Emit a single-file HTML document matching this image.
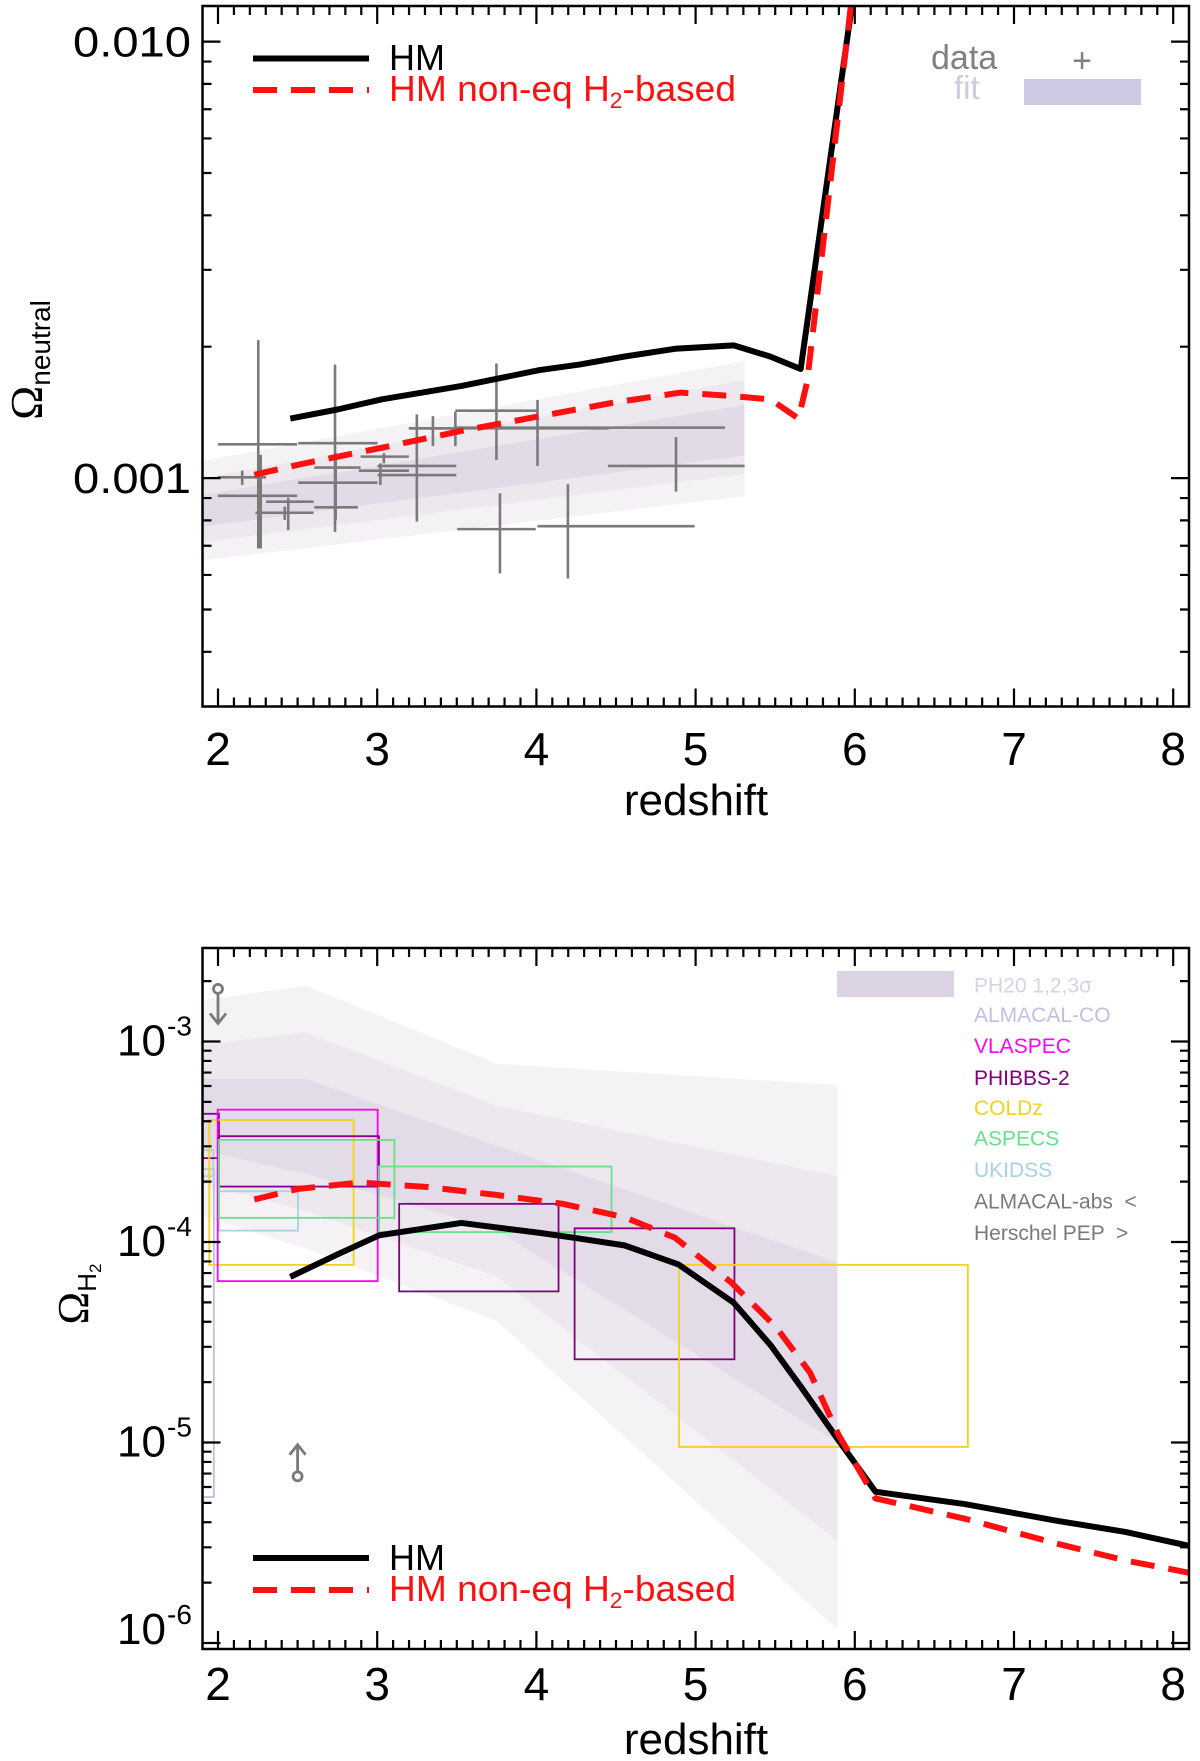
<!DOCTYPE html>
<html><head><meta charset="utf-8"><style>
html,body{margin:0;padding:0;background:#fff;}
svg{display:block;font-family:"Liberation Sans",Arial,sans-serif;}
</style></head><body>
<svg id="fig" width="1200" height="1761" viewBox="0 0 1200 1761" xmlns="http://www.w3.org/2000/svg">
<defs>
<clipPath id="clipTop"><rect x="202.5" y="6" width="986.5" height="700.5"/></clipPath>
<clipPath id="clipBot"><rect x="202.5" y="948" width="986.5" height="701"/></clipPath>
</defs>
<g id="topPanel"></g>
<g id="botPanel"></g>
</svg>
<script>
// ---------- Top panel data ----------
const hmTopZ = [2.454,2.75,3.03,3.53,4.02,4.27,4.55,4.87,5.24,5.47,5.66,6.0];
const hmTopV = [1.369e-3,1.436e-3,1.515e-3,1.626e-3,1.768e-3,1.82e-3,1.898e-3,1.978e-3,2.014e-3,1.898e-3,1.778e-3,0.0135];
const neqTopZ = [2.228,2.539,3.03,3.53,4.02,4.48,4.906,5.225,5.47,5.646,5.70,5.98];
const neqTopV = [1.018e-3,1.080e-3,1.174e-3,1.283e-3,1.386e-3,1.488e-3,1.570e-3,1.542e-3,1.515e-3,1.369e-3,1.656e-3,0.0125];
const fitTopZ = [1.9,5.307];
const fit3Hi = [1.093e-3,1.853e-3], fit3Lo = [6.48e-4,9.09e-4];
const fit2Hi = [1.0e-3,1.676e-3],  fit2Lo = [7.13e-4,1.024e-3];
const fit1Hi = [9.15e-4,1.47e-3],  fit1Lo = [7.75e-4,1.126e-3];
const errZ   = [2.253,2.152,2.268,2.441,2.419,2.735,2.739,2.739,2.739,3.042,3.020,3.249,3.249,3.350,3.749,3.491,3.749,4.007,4.877,3.771,4.198];
const errZlo = [1.999,1.999,1.999,2.302,2.235,2.504,2.605,2.504,2.605,2.896,2.885,3.002,3.002,3.199,3.491,3.491,3.199,3.491,4.449,3.502,4.007];
const errZhi = [2.497,2.302,2.497,2.600,2.600,3.002,2.896,3.002,2.879,3.199,3.199,3.497,3.497,3.497,4.007,3.491,4.455,5.185,5.308,3.996,4.994];
const errV   = [1.195e-3,1.004e-3,9.11e-4,8.83e-4,8.33e-4,1.202e-3,1.057e-3,9.76e-4,8.57e-4,1.12e-3,1.04e-3,1.066e-3,1.016e-3,1.30e-3,1.427e-3,1.30e-3,1.30e-3,1.305e-3,1.066e-3,7.64e-4,7.76e-4];
const errVlo = [6.90e-4,9.64e-4,6.90e-4,7.60e-4,8.02e-4,7.53e-4,8.02e-4,9.76e-4,8.57e-4,1.081e-3,9.64e-4,7.95e-4,1.016e-3,1.184e-3,1.427e-3,1.184e-3,1.10e-3,1.066e-3,9.31e-4,6.05e-4,5.89e-4];
const errVhi = [2.07e-3,1.04e-3,1.13e-3,9.01e-4,8.60e-4,1.82e-3,1.14e-3,9.76e-4,8.57e-4,1.14e-3,1.081e-3,1.40e-3,1.016e-3,1.387e-3,1.427e-3,1.42e-3,1.83e-3,1.51e-3,1.241e-3,9.23e-4,9.68e-4];
const topYTickLabels = ["0.010","0.001"];
const topYTickVals = [0.01,0.001];
const xTickLabels = ["2","3","4","5","6","7","8"];

// ---------- Bottom panel data ----------
const hmBotZ = [2.454,2.75,3.012,3.528,4.022,4.27,4.553,4.892,5.239,5.472,5.663,5.896,6.13,6.69,7.27,7.70,8.10];
const hmBotV = [6.70e-5,8.67e-5,1.08e-4,1.245e-4,1.11e-4,1.04e-4,9.62e-5,7.73e-5,4.98e-5,3.05e-5,1.89e-5,1.03e-5,5.68e-6,4.93e-6,4.07e-6,3.58e-6,3.05e-6];
const neqBotZ = [2.228,2.504,2.893,3.317,3.741,4.165,4.553,4.871,5.224,5.507,5.719,5.896,6.13,6.69,7.27,7.70,8.10];
const neqBotV = [1.63e-4,1.84e-4,1.98e-4,1.88e-4,1.72e-4,1.55e-4,1.33e-4,1.05e-4,6.28e-5,3.75e-5,2.23e-5,1.10e-5,5.26e-6,4.17e-6,3.13e-6,2.58e-6,2.24e-6];
const bandZ = [1.9,2.55,3.75,5.89];
const band3Hi = [1.6e-3,1.9e-3,7.74e-4,6.07e-4],  band3Lo = [1.35e-4,9.3e-5,4.05e-5,1.17e-6];
const band2Hi = [9.6e-4,1.11e-3,4.78e-4,2.13e-4], band2Lo = [1.97e-4,1.43e-4,6.73e-5,3.24e-6];
const band1Hi = [6.52e-4,6.52e-4,3.03e-4,7.9e-5], band1Lo = [2.86e-4,2.19e-4,1.15e-4,1.0e-5];
const boxSurvey = ["ALMACAL-CO","UKIDSS","UKIDSS","PHIBBS-2","COLDz","VLASPEC","PHIBBS-2","ASPECS","ASPECS","PHIBBS-2","PHIBBS-2","COLDz"];
const boxZlo = [1.88,1.88,2.006,1.88,1.945,1.998,2.006,2.006,3.011,3.138,4.240,4.896];
const boxZhi = [1.974,1.97,2.503,2.006,2.852,3.003,3.011,3.108,4.472,4.139,5.244,6.71];
const boxVlo = [5.35e-6,2.13e-4,1.14e-4,2.62e-4,7.69e-5,6.38e-5,1.89e-4,1.32e-4,1.12e-4,5.67e-5,2.60e-5,9.5e-6];
const boxVhi = [2.31e-4,2.87e-4,1.79e-4,4.36e-4,4.06e-4,4.57e-4,3.37e-4,3.23e-4,2.38e-4,1.55e-4,1.17e-4,7.69e-5];
const arrowZ = [2.0,2.50];
const arrowV = [1.83e-3,6.78e-6];
const arrowTip = [1.23e-3,9.75e-6];
const legendNames = ["PH20 1,2,3σ","ALMACAL-CO","VLASPEC","PHIBBS-2","COLDz","ASPECS","UKIDSS","ALMACAL-abs  <","Herschel PEP  >"];
const botYTickExp = ["-3","-4","-5","-6"];
const botYTickVals = [1e-3,1e-4,1e-5,1e-6];

const surveyColor = {"ALMACAL-CO":"#c4bee2","VLASPEC":"#ff00ff","PHIBBS-2":"#800080","COLDz":"#f2d21e","ASPECS":"#66e08a","UKIDSS":"#a8d2e2"};
const legendColors = ["#d9d1e6","#c4bee2","#ff00ff","#800080","#f2d21e","#66e08a","#a8d2e2","#7a7a7a","#7a7a7a"];

// ---------- axis functions ----------
const X = z => 218 + (z-2)*159.2;
const YT = v => 41.6 + (-2 - Math.log10(v))*436.5;
const YB = v => 1242 + (-4 - Math.log10(v))*200.5;
const NS = "http://www.w3.org/2000/svg";
function mk(parent, tag, attrs, text){
  const e = document.createElementNS(NS, tag);
  for (const k in attrs) e.setAttribute(k, attrs[k]);
  if (text !== undefined) e.textContent = text;
  parent.appendChild(e);
  return e;
}
const topG = document.getElementById('topPanel');
const botG = document.getElementById('botPanel');

function bandPoly(g, zs, hi, lo, Y, fill, name){
  let pts = zs.map((z,i)=>X(z)+','+Y(hi[i]));
  for (let i=zs.length-1;i>=0;i--) pts.push(X(zs[i])+','+Y(lo[i]));
  const p = mk(g,'polygon',{points:pts.join(' '),fill:fill});
  
  
}
function drawLine(g, zs, vs, Y, stroke, dash, name){
  const p = mk(g,'polyline',{points:zs.map((z,i)=>X(z)+','+Y(vs[i])).join(' '),fill:'none',stroke:stroke,'stroke-width':6,'stroke-linejoin':'round'});
  if (dash) p.setAttribute('stroke-dasharray', dash);
  
  
}
function axes(g, y0, y1, Y, decadeMin, decadeMax){
  const frame = mk(g,'rect',{x:202.5,y:y0,width:986.5,height:y1-y0,fill:'none',stroke:'#000','stroke-width':2.5});
  
  
  let d = '';
  for (let i=19;i<=81;i++){
    const z=i/10; const x=X(z); if (x<203||x>1188) continue;
    const L = (i%10===0)?18:9;
    d += `M${x},${y1}v${-L}M${x},${y0}v${L}`;
  }
  for (let e=decadeMin;e<=decadeMax;e++){
    for (let k=1;k<=9;k++){
      const v=k*Math.pow(10,e); const y=Y(v); if (y<y0+1||y>y1-1) continue;
      const L = (k===1)?18:9;
      d += `M202.5,${y}h${L}M1189,${y}h${-L}`;
    }
  }
  const t = mk(g,'path',{d:d,stroke:'#000','stroke-width':2.2,fill:'none'});
  
  
}

// ===== TOP PANEL =====
const tc = mk(topG,'g',{'clip-path':'url(#clipTop)'});
bandPoly(tc, fitTopZ, fit3Hi, fit3Lo, YT, '#f4f2f5', 'fit-band-3sigma');
bandPoly(tc, fitTopZ, fit2Hi, fit2Lo, YT, '#ece8ee', 'fit-band-2sigma');
bandPoly(tc, fitTopZ, fit1Hi, fit1Lo, YT, '#e2dae7', 'fit-band-1sigma');
errZ.forEach((z,i)=>{
  const g = mk(tc,'path',{d:`M${X(errZlo[i])},${YT(errV[i])}H${X(errZhi[i])}M${X(z)},${YT(errVhi[i])}V${YT(errVlo[i])}`,stroke:'#7a7a7a','stroke-width':2.6,fill:'none'});
  
  
});
drawLine(tc, hmTopZ, hmTopV, YT, '#000', null, 'hm-line');
drawLine(tc, neqTopZ, neqTopV, YT, '#ff1010', '24,14', 'hm-noneq-line');
axes(topG, 6, 706.5, YT, -4, -2);
topYTickVals.forEach((v,i)=>{
  const t = mk(topG,'text',{x:191,y:YT(v)+15,'text-anchor':'end','font-size':43,textLength:118,lengthAdjust:'spacingAndGlyphs'},topYTickLabels[i]);
  
  
});
xTickLabels.forEach((s,i)=>{
  const t = mk(topG,'text',{x:X(+s),y:765,'text-anchor':'middle','font-size':46},s);
  
  
});
{
  const t = mk(topG,'text',{x:696,y:815,'text-anchor':'middle','font-size':44},'redshift');
  
  
  const yt = mk(topG,'text',{transform:'translate(42,360) rotate(-90)','text-anchor':'middle','font-size':46,'font-family':'"Liberation Serif",serif'});
  
  
  mk(yt,'tspan',{},'Ω');
  mk(yt,'tspan',{'font-size':28,dy:8,'font-family':'"Liberation Sans",sans-serif'},'neutral');
}
function legendRed(g, y){
  const r = mk(g,'text',{x:389,y:y,'font-size':36,fill:'#ff1010',textLength:347,lengthAdjust:'spacingAndGlyphs'});
  mk(r,'tspan',{},'HM non-eq H');
  mk(r,'tspan',{'font-size':22,dy:7},'2');
  mk(r,'tspan',{dy:-7},'-based');
}
// legend top
{
  const lg = mk(topG,'g',{});
  
  
  mk(lg,'line',{x1:253,x2:369,y1:58.5,y2:58.5,stroke:'#000','stroke-width':6});
  mk(lg,'text',{x:389,y:70,'font-size':36,textLength:56,lengthAdjust:'spacingAndGlyphs'},'HM');
  mk(lg,'line',{x1:253,x2:369,y1:90,y2:90,stroke:'#ff1010','stroke-width':6,'stroke-dasharray':'24,14'});
  legendRed(lg, 101);
  mk(lg,'text',{x:931,y:69,'font-size':34,fill:'#808080'},'data');
  mk(lg,'text',{x:1082,y:72,'font-size':34,fill:'#808080','text-anchor':'middle'},'+');
  mk(lg,'text',{x:954,y:99,'font-size':33,fill:'#cfc9e3'},'fit');
  mk(lg,'rect',{x:1024,y:79,width:117,height:26,fill:'#cfc9e3'});
}

// ===== BOTTOM PANEL =====
const bc = mk(botG,'g',{'clip-path':'url(#clipBot)'});
bandPoly(bc, bandZ, band3Hi, band3Lo, YB, '#f4f2f5', 'ph20-band-3sigma');
bandPoly(bc, bandZ, band2Hi, band2Lo, YB, '#ece8ee', 'ph20-band-2sigma');
bandPoly(bc, bandZ, band1Hi, band1Lo, YB, '#e4dbe8', 'ph20-band-1sigma');
boxSurvey.forEach((s,i)=>{
  const r = mk(bc,'rect',{x:X(boxZlo[i]),y:YB(boxVhi[i]),width:X(boxZhi[i])-X(boxZlo[i]),height:YB(boxVlo[i])-YB(boxVhi[i]),fill:'none',stroke:surveyColor[s],'stroke-width':1.8});
  
  
});
arrowZ.forEach((z,i)=>{
  const x=X(z), y0=YB(arrowV[i]), y1=YB(arrowTip[i]);
  const dir = y1>y0?1:-1;
  const g = mk(bc,'g',{stroke:'#7a7a7a','stroke-width':2.8,fill:'none'});
  
  
  mk(g,'circle',{cx:x,cy:y0,r:4.5});
  mk(g,'path',{d:`M${x},${y0+dir*4.5}V${y1}M${x-8},${y1-dir*10}L${x},${y1}L${x+8},${y1-dir*10}`});
});
drawLine(bc, hmBotZ, hmBotV, YB, '#000', null, 'hm-line');
drawLine(bc, neqBotZ, neqBotV, YB, '#ff1010', '24,14', 'hm-noneq-line');
axes(botG, 948, 1649, YB, -7, -3);
botYTickVals.forEach((v,i)=>{
  const yy = Math.min(YB(v), 1630);
  const t = mk(botG,'text',{x:166,y:yy+14,'text-anchor':'end','font-size':44});
  
  
  t.textContent = '10';
  mk(botG,'text',{x:167,y:yy-6,'font-size':28},botYTickExp[i]);
});
xTickLabels.forEach((s,i)=>{
  const t = mk(botG,'text',{x:X(+s),y:1700,'text-anchor':'middle','font-size':46},s);
  
  
});
{
  const t = mk(botG,'text',{x:696,y:1754,'text-anchor':'middle','font-size':44},'redshift');
  
  
  const yt = mk(botG,'text',{transform:'translate(88,1294) rotate(-90)','text-anchor':'middle','font-size':44,'font-family':'"Liberation Serif",serif'});
  
  
  mk(yt,'tspan',{},'Ω');
  mk(yt,'tspan',{'font-size':26,dy:8,'font-family':'"Liberation Sans",sans-serif'},'H');
  mk(yt,'tspan',{'font-size':17,dy:5,'font-family':'"Liberation Sans",sans-serif'},'2');
}
{
  const lg = mk(botG,'g',{});
  
  
  mk(lg,'rect',{x:837,y:971,width:117,height:26,fill:'#dcd3e4'});
  const ys=[985.5,1015,1046,1078,1108,1138.5,1170,1201.5,1233];
  legendNames.forEach((n,i)=>{
    const t = mk(lg,'text',{x:974,y:ys[i]+7,'font-size':21,fill:legendColors[i],style:'white-space:pre'},n);
    
    
  });
  const l2 = mk(botG,'g',{});
  
  
  mk(l2,'line',{x1:253,x2:369,y1:1558,y2:1558,stroke:'#000','stroke-width':6});
  mk(l2,'text',{x:389,y:1570,'font-size':36,textLength:56,lengthAdjust:'spacingAndGlyphs'},'HM');
  mk(l2,'line',{x1:253,x2:369,y1:1590,y2:1590,stroke:'#ff1010','stroke-width':6,'stroke-dasharray':'24,14'});
  legendRed(l2, 1601);
}
</script>
</body></html>
